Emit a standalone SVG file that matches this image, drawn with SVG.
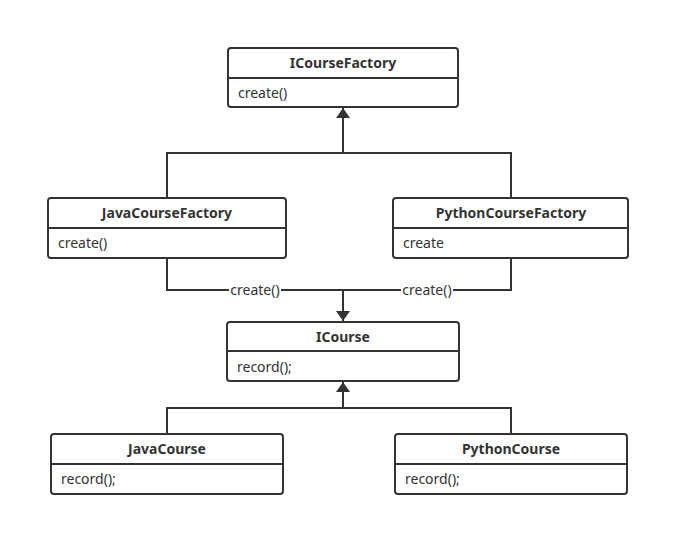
<svg xmlns="http://www.w3.org/2000/svg" width="690" height="556" viewBox="0 0 690 556">
<defs>
<marker id="arr" viewBox="0 0 10 14" refX="10" refY="7" markerWidth="10" markerHeight="14" markerUnits="userSpaceOnUse" orient="auto">
<path d="M0,0 L10,7 L0,14 Z" fill="#333"/>
</marker>
<style>
.box{fill:#fff;stroke:#333;stroke-width:2}
.div{stroke:#333;stroke-width:2}
.t{font-family:"Noto Sans","DejaVu Sans",sans-serif;font-size:14px;fill:#333}
.b{font-weight:bold;text-anchor:middle}
.ln{fill:none;stroke:#333;stroke-width:2}
.lbl{font-family:"Noto Sans","DejaVu Sans",sans-serif;font-size:14px;fill:#333;text-anchor:middle}
</style>
</defs>
<rect width="690" height="556" fill="#fff"/>
<g id="connectors">
<path class="ln" d="M167,198 V153 H511 V198"/>
<path class="ln" d="M343,153 V108" marker-end="url(#arr)"/>
<path class="ln" d="M167,258 V290 H511 V258"/>
<path class="ln" d="M343,290 V321" marker-end="url(#arr)"/>
<rect x="229" y="282" width="52" height="16" fill="#fff"/>
<text class="lbl" x="255" y="295">create()</text>
<rect x="401" y="282" width="52" height="16" fill="#fff"/>
<text class="lbl" x="427" y="295">create()</text>
<path class="ln" d="M167,434 V408 H511 V434"/>
<path class="ln" d="M343,408 V382" marker-end="url(#arr)"/>
</g>
<g id="ICourseFactory">
<rect class="box" x="228" y="48" width="230" height="59" rx="3"/>
<line class="div" x1="228" y1="78" x2="458" y2="78"/>
<text class="t b" x="343" y="68">ICourseFactory</text>
<text class="t" x="238" y="98">create()</text>
</g>
<g id="JavaCourseFactory">
<rect class="box" x="48" y="198" width="238" height="60" rx="3"/>
<line class="div" x1="48" y1="228" x2="286" y2="228"/>
<text class="t b" x="167" y="218">JavaCourseFactory</text>
<text class="t" x="58" y="248">create()</text>
</g>
<g id="PythonCourseFactory">
<rect class="box" x="393" y="198" width="235" height="60" rx="3"/>
<line class="div" x1="393" y1="228" x2="628" y2="228"/>
<text class="t b" x="511" y="218">PythonCourseFactory</text>
<text class="t" x="403" y="248">create</text>
</g>
<g id="ICourse">
<rect class="box" x="227" y="322" width="232" height="59" rx="3"/>
<line class="div" x1="227" y1="351" x2="459" y2="351"/>
<text class="t b" x="343" y="342">ICourse</text>
<text class="t" x="237" y="372">record();</text>
</g>
<g id="JavaCourse">
<rect class="box" x="51" y="434" width="232" height="60" rx="3"/>
<line class="div" x1="51" y1="464" x2="283" y2="464"/>
<text class="t b" x="167" y="454">JavaCourse</text>
<text class="t" x="61" y="484">record();</text>
</g>
<g id="PythonCourse">
<rect class="box" x="395" y="434" width="232" height="60" rx="3"/>
<line class="div" x1="395" y1="464" x2="627" y2="464"/>
<text class="t b" x="511" y="454">PythonCourse</text>
<text class="t" x="405" y="484">record();</text>
</g>
</svg>
